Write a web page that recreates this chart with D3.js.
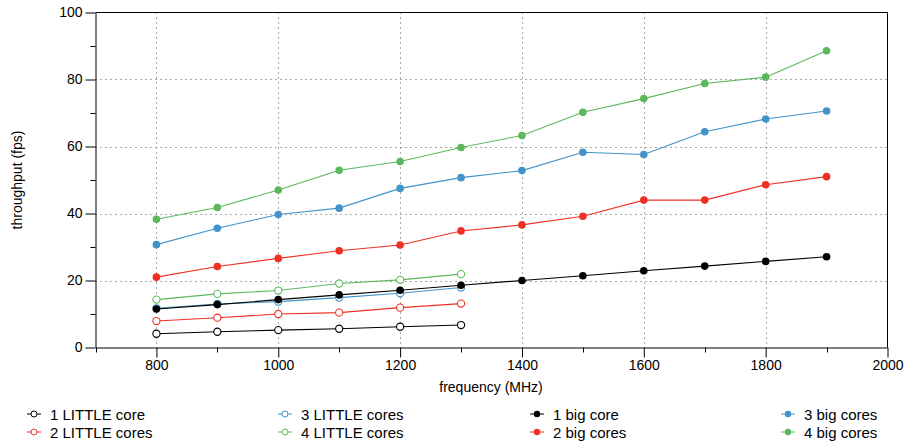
<!DOCTYPE html>
<html>
<head>
<meta charset="utf-8">
<script src="https://cdn.jsdelivr.net/npm/d3@7"></script>
<style>
  body { margin: 0; background: #fff; }
  svg { font-family: "Liberation Sans", Arial, sans-serif; }
  .grid line { stroke: #555; stroke-dasharray: 1,4; stroke-width: 1; }
  .axis path, .axis line { stroke: #000; }
  .axis text { font-size: 14px; fill: #000; }
</style>
</head>
<body>
<div id="chart"></div>
<script>
// frequencies (MHz)
const freqLittle = [800, 900, 1000, 1100, 1200, 1300];
const freqBig = [800, 900, 1000, 1100, 1200, 1300, 1400, 1500, 1600, 1700, 1800, 1900];

const little1 = [4.1, 4.7, 5.2, 5.6, 6.2, 6.7];
const little2 = [7.9, 8.9, 10.0, 10.4, 11.9, 13.1];
const little3 = [11.7, 13.0, 13.7, 14.9, 16.2, 17.9];
const little4 = [14.3, 16.0, 17.0, 19.1, 20.2, 21.9];

const big1 = [11.5, 12.8, 14.3, 15.7, 17.1, 18.6, 20.0, 21.4, 22.9, 24.3, 25.7, 27.1];
const big2 = [21.0, 24.2, 26.6, 28.9, 30.6, 34.8, 36.6, 39.2, 44.0, 44.0, 48.6, 51.0];
const big3 = [30.7, 35.6, 39.7, 41.6, 47.5, 50.7, 52.8, 58.3, 57.6, 64.4, 68.2, 70.6];
const big4 = [38.3, 41.8, 47.0, 52.9, 55.5, 59.7, 63.3, 70.2, 74.3, 78.8, 80.7, 88.6];

const xTicks = [800, 1000, 1200, 1400, 1600, 1800, 2000];
const yTicks = [0, 20, 40, 60, 80, 100];

const colors = ["#000000", "#ee3124", "#4393c9", "#5cb85c"];

const series = [
  {name: "1 LITTLE core", xs: freqLittle, ys: little1, color: colors[0], open: true},
  {name: "2 LITTLE cores", xs: freqLittle, ys: little2, color: colors[1], open: true},
  {name: "3 LITTLE cores", xs: freqLittle, ys: little3, color: colors[2], open: true},
  {name: "4 LITTLE cores", xs: freqLittle, ys: little4, color: colors[3], open: true},
  {name: "1 big core", xs: freqBig, ys: big1, color: colors[0], open: false},
  {name: "2 big cores", xs: freqBig, ys: big2, color: colors[1], open: false},
  {name: "3 big cores", xs: freqBig, ys: big3, color: colors[2], open: false},
  {name: "4 big cores", xs: freqBig, ys: big4, color: colors[3], open: false}
];

const W = 908, H = 444;
const mLeft = 95.5, mRight = 887.5, mTop = 12.5, mBottom = 347.5;

const x = d3.scaleLinear().domain([700, 2000]).range([mLeft, mRight]);
const y = d3.scaleLinear().domain([0, 100]).range([mBottom, mTop]);

const svg = d3.select("#chart").append("svg")
    .attr("width", W)
    .attr("height", H);

// grid
const grid = svg.append("g").attr("class", "grid");
grid.selectAll(".gx")
    .data(xTicks.filter(d => d < 2000))
    .enter().append("line")
    .attr("x1", d => Math.round(x(d)) + 0.5).attr("x2", d => Math.round(x(d)) + 0.5)
    .attr("y1", mTop).attr("y2", mBottom);
grid.selectAll(".gy")
    .data(yTicks.filter(d => d > 0 && d < 100))
    .enter().append("line")
    .attr("y1", d => Math.round(y(d)) + 0.5).attr("y2", d => Math.round(y(d)) + 0.5)
    .attr("x1", mLeft).attr("x2", mRight);

// frame (top and right)
svg.append("path")
    .attr("d", `M${mLeft},${mTop}H${mRight}V${mBottom}`)
    .attr("fill", "none")
    .attr("stroke", "#000");

// minor ticks
const xMinor = d3.range(700, 2000, 200);
svg.append("g").selectAll("line")
    .data(xMinor)
    .enter().append("line")
    .attr("x1", d => Math.round(x(d)) + 0.5).attr("x2", d => Math.round(x(d)) + 0.5)
    .attr("y1", mBottom).attr("y2", mBottom + 5)
    .attr("stroke", "#000");
const yMinor = d3.range(10, 100, 20);
svg.append("g").selectAll("line")
    .data(yMinor)
    .enter().append("line")
    .attr("y1", d => Math.round(y(d)) + 0.5).attr("y2", d => Math.round(y(d)) + 0.5)
    .attr("x1", mLeft - 5).attr("x2", mLeft)
    .attr("stroke", "#000");

// axes
const xAxis = d3.axisBottom(x).tickValues(xTicks).tickFormat(d3.format("d"))
    .tickSize(10).tickPadding(3).tickSizeOuter(0);
svg.append("g")
    .attr("class", "axis")
    .attr("transform", "translate(0," + mBottom + ")")
    .call(xAxis);

const yAxis = d3.axisLeft(y).tickValues(yTicks).tickFormat(d3.format("d"))
    .tickSize(10).tickPadding(3).tickSizeOuter(0);
svg.append("g")
    .attr("class", "axis")
    .attr("transform", "translate(" + mLeft + ",0)")
    .call(yAxis);

// axis labels
svg.append("text")
    .attr("x", 491)
    .attr("y", 392)
    .attr("text-anchor", "middle")
    .attr("font-size", 14)
    .text("frequency (MHz)");

svg.append("text")
    .attr("transform", "translate(22,180) rotate(-90)")
    .attr("text-anchor", "middle")
    .attr("font-size", 14)
    .text("throughput (fps)");

// lines and points
const line = d3.line()
    .x(d => x(d[0]))
    .y(d => y(d[1]));

series.forEach(s => {
  const pts = s.xs.map((f, j) => [f, s.ys[j]]);
  svg.append("path")
      .attr("d", line(pts))
      .attr("fill", "none")
      .attr("stroke", s.color)
      .attr("stroke-width", 1.1);
  svg.append("g").selectAll("circle")
      .data(pts)
      .enter().append("circle")
      .attr("cx", d => x(d[0]))
      .attr("cy", d => y(d[1]))
      .attr("r", s.open ? 3.6 : 3.8)
      .attr("fill", s.open ? "#fff" : s.color)
      .attr("stroke", s.color)
      .attr("stroke-width", s.open ? 1.1 : 0);
});

// legend
const legX = [27, 278, 530, 781];
const legY = [414, 432];
const legPos = [[0, 0], [0, 1], [1, 0], [1, 1], [2, 0], [2, 1], [3, 0], [3, 1]];
const legend = svg.append("g");
series.forEach((s, i) => {
  const lx = legX[legPos[i][0]], ly = legY[legPos[i][1]];
  const g = legend.append("g").attr("transform", `translate(${lx},${ly})`);
  g.append("line")
      .attr("x1", 0).attr("x2", 14)
      .attr("y1", 0).attr("y2", 0)
      .attr("stroke", s.color);
  g.append("circle")
      .attr("cx", 7).attr("cy", 0)
      .attr("r", s.open ? 3 : 3.2)
      .attr("fill", s.open ? "#fff" : s.color)
      .attr("stroke", s.color)
      .attr("stroke-width", s.open ? 1 : 0);
  g.append("text")
      .attr("x", 23)
      .attr("y", 5.5)
      .attr("font-size", 15)
      .text(s.name);
});
</script>
</body>
</html>
